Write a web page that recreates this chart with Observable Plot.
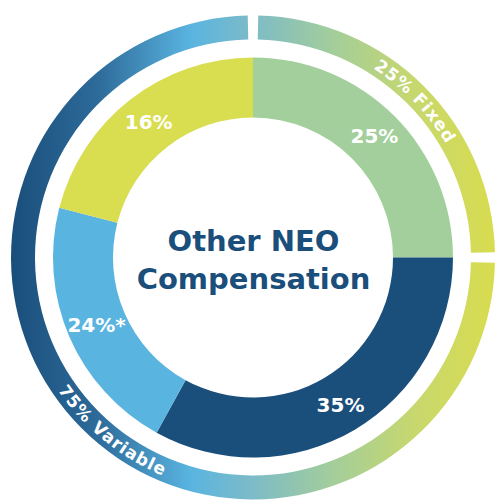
<!DOCTYPE html>
<html><head><meta charset="utf-8">
<script src="https://cdn.jsdelivr.net/npm/d3@7"></script>
<script src="https://cdn.jsdelivr.net/npm/@observablehq/plot@0.6"></script>
<style>body{margin:0;background:#fff}</style>
</head><body><div id="chart"></div>
<script>
// Inner donut: printed labels and drawn share of the circle
const sliceLabels = ["25%", "35%", "24%*", "16%"];
const sliceShares = [25, 33, 21, 21];
const sliceColors = ["#a2cf9b", "#1a4e7b", "#5ab4e0", "#d9dd50"];
// Outer ring
const ringLabels = ["25% Fixed", "75% Variable"];
const ringShares = [25, 75];
const title = ["Other NEO", "Compensation"];

const TAU = 2 * Math.PI;
const cum = d3.cumsum([0, ...sliceShares]);
const slices = sliceLabels.map((label, i) => ({
  label, color: sliceColors[i],
  a0: cum[i] / 100 * TAU, a1: cum[i + 1] / 100 * TAU
}));
const rcum = d3.cumsum([0, ...ringShares]);
const ring = ringLabels.map((label, i) => ({
  label, a0: rcum[i] / 100 * TAU, a1: rcum[i + 1] / 100 * TAU
}));

const R_IN = 140, R_OUT = 200, RING_IN = 218, RING_OUT = 242, LABEL_R = 171;

// approximate DejaVu Sans Bold advance widths (em) for word placement on the arc
const ADV = {"0":.696,"1":.696,"2":.696,"3":.696,"4":.696,"5":.696,"6":.696,"7":.696,"8":.696,"9":.696,
  "%":1.002," ":.348,F:.575,i:.343,x:.663,e:.678,d:.716,V:.774,a:.675,r:.493,b:.716,l:.343};
const FS = 17, LS = 1;
const wordWidth = w => [...w].reduce((s, c) => s + (ADV[c] ?? .65) * FS + LS, 0);

function donutMark(index, scales) {
  const {x, y} = scales;
  const cx = x(0), cy = y(0), k = x(1) - x(0);
  const g = d3.create("svg:g").attr("transform", `translate(${cx},${cy})`);
  const defs = g.append("defs");
  const grad = defs.append("linearGradient")
    .attr("id", "ringGrad").attr("gradientUnits", "userSpaceOnUse")
    .attr("x1", -RING_OUT * k).attr("x2", RING_OUT * k).attr("y1", 0).attr("y2", 0);
  [[0, "#1a4e7b"], [0.18, "#2d6b9a"], [0.37, "#5ab4e0"], [0.5, "#7dbbc7"],
   [0.66, "#a2cd9c"], [0.84, "#c8d86c"], [1, "#d8dc4e"]]
    .forEach(([o, c]) => grad.append("stop").attr("offset", o).attr("stop-color", c));

  const arc = d3.arc();
  g.append("g").selectAll("path").data(slices).join("path")
    .attr("d", d => arc({innerRadius: R_IN * k, outerRadius: R_OUT * k, startAngle: d.a0, endAngle: d.a1}))
    .attr("fill", d => d.color);

  const gap = 10 / 230;
  g.append("g").selectAll("path").data(ring).join("path")
    .attr("d", d => arc({innerRadius: RING_IN * k, outerRadius: RING_OUT * k,
      startAngle: d.a0 + gap / 2, endAngle: d.a1 - gap / 2}))
    .attr("fill", "url(#ringGrad)");

  // curved ring labels (one text per word, along the ring)
  const P = (deg, r) => {
    const t = deg * Math.PI / 180;
    return [r * k * Math.sin(t), -r * k * Math.cos(t)];
  };
  const arcPath = (from, to, r, sweep) => {
    const [x0, y0] = P(from, r), [x1, y1] = P(to, r);
    return `M${x0},${y0}A${r * k},${r * k} 0 0 ${sweep} ${x1},${y1}`;
  };
  const labelSpec = [
    {id: "fixedPath", from: 6, to: 86, r: 224, sweep: 1},
    {id: "variablePath", from: 264, to: 174, r: 236, sweep: 0}
  ];
  labelSpec.forEach((s, i) => {
    defs.append("path").attr("id", s.id).attr("d", arcPath(s.from, s.to, s.r, s.sweep));
    const len = Math.abs(s.to - s.from) * Math.PI / 180 * s.r * k;
    const words = ring[i].label.split(" ");
    const widths = words.map(wordWidth);
    const sp = wordWidth(" ");
    const total = d3.sum(widths) + sp * (words.length - 1);
    let pos = len / 2 - total / 2;
    words.forEach((w, j) => {
      const c = pos + widths[j] / 2;
      g.append("text")
        .attr("fill", "white").attr("font-size", FS).attr("font-weight", "bold")
        .attr("font-family", "DejaVu Sans").attr("letter-spacing", LS)
        .append("textPath").attr("href", "#" + s.id)
        .attr("startOffset", c).attr("text-anchor", "middle")
        .text(w);
      pos += widths[j] + sp;
    });
  });
  return g.node();
}

const mid = d => (d.a0 + d.a1) / 2;
const chart = Plot.plot({
  width: 496, height: 500, margin: 0,
  x: {domain: [-253, 243], range: [0, 496], axis: null},
  y: {domain: [257.5, -242.5], range: [0, 500], axis: null},
  style: {fontFamily: "DejaVu Sans", background: "white"},
  marks: [
    donutMark,
    Plot.text(slices, {
      x: d => LABEL_R * Math.sin(mid(d)), y: d => LABEL_R * Math.cos(mid(d)),
      text: "label", fill: "white", fontSize: 20, fontWeight: "bold"
    }),
    Plot.text([{t: title.join("\n"), x: 0, y: 0}], {
      x: "x", y: "y", text: "t", fill: "#1a4e7b", fontSize: 29,
      fontWeight: "bold", lineHeight: 1.31
    })
  ]
});
document.getElementById("chart").appendChild(chart);
</script>
</body></html>
